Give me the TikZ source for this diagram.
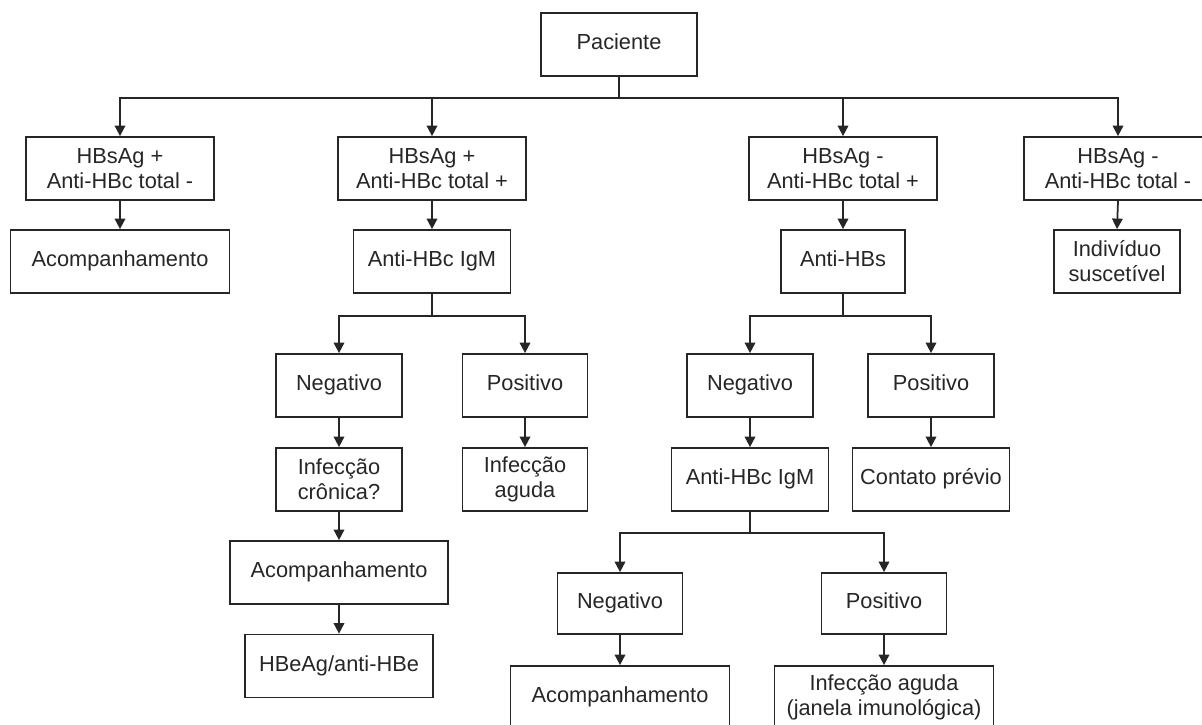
\documentclass[tikz,border=0pt]{standalone}
\usepackage{fontspec}
\setmainfont{Liberation Sans}
\usepackage{tikz}
\usetikzlibrary{shapes,arrows,positioning,calc,arrows.meta}

\colorlet{ink}{black!85}
\tikzset{
    caixa/.style={draw=ink, text=ink, line width=1pt, inner sep=0pt, align=center,
        minimum height=1.26cm, font=\fontsize{12.4}{14.2}\selectfont},
    uma/.style={caixa, text height=1.6ex, text depth=0.45ex},
    seta/.style={draw=ink, line width=1pt, -{Triangle[width=6pt,length=6pt]}},
    linha/.style={draw=ink, line width=1pt}
}

\begin{document}
\begin{tikzpicture}[x=0.02cm, y=-0.02cm]
    \useasboundingbox (0,0) rectangle (1202,724);

    % Topo
    \node[uma, minimum width=3.12cm] (pac) at (619,44.5) {Paciente};

    % Primeiro nivel
    \node[caixa, minimum width=3.76cm] (b1) at (120,168.5) {HBsAg +\\Anti-HBc total -};
    \node[caixa, minimum width=3.76cm] (b2) at (432,168.5) {HBsAg +\\Anti-HBc total +};
    \node[caixa, minimum width=3.76cm] (b3) at (843,168.5) {HBsAg -\\Anti-HBc total +};
    \node[caixa, minimum width=3.76cm] (b4) at (1118,168.5) {HBsAg -\\Anti-HBc total -};

    % Segundo nivel
    \node[uma, minimum width=4.38cm] (acomp1) at (120,261.5) {Acompanhamento};
    \node[uma, minimum width=3.14cm] (igm1) at (432,261.5) {Anti-HBc IgM};
    \node[uma, minimum width=2.48cm] (antihbs) at (843,261.5) {Anti-HBs};
    \node[caixa, minimum width=2.52cm] (indiv) at (1117,261.5) {Indivíduo\\suscetível};

    % Ramo IgM
    \node[uma, minimum width=2.52cm] (neg1) at (339,385.5) {Negativo};
    \node[uma, minimum width=2.5cm] (pos1) at (525,385.5) {Positivo};
    \node[caixa, minimum width=2.52cm] (cron) at (339,479.5) {Infecção\\crônica?};
    \node[caixa, minimum width=2.5cm] (aguda) at (525,479.5) {Infecção\\aguda};
    \node[uma, minimum width=4.36cm] (acomp2) at (339,572.5) {Acompanhamento};
    \node[uma, minimum width=3.76cm] (hbe) at (339,666) {HBeAg/anti-HBe};

    % Ramo Anti-HBs
    \node[uma, minimum width=2.52cm] (neg2) at (750,385.5) {Negativo};
    \node[uma, minimum width=2.52cm] (pos2) at (931,385.5) {Positivo};
    \node[uma, minimum width=3.14cm] (igm2) at (750,479.5) {Anti-HBc IgM};
    \node[uma, minimum width=3.14cm] (contato) at (931,479.5) {Contato prévio};
    \node[uma, minimum width=2.5cm, minimum height=1.22cm] (neg3) at (620,603.5) {Negativo};
    \node[uma, minimum width=2.5cm, minimum height=1.22cm] (pos3) at (884,603.5) {Positivo};
    \node[uma, minimum width=4.38cm] (acomp3) at (620,697.5) {Acompanhamento};
    \node[caixa, minimum width=4.38cm] (janela) at (884,697.5) {Infecção aguda\\(janela imunológica)};

    % Barras
    \coordinate (j0) at (619,98);
    \coordinate (j1) at (432,316);
    \coordinate (j2) at (843,316);
    \coordinate (j3) at (750,533);

    \draw[linha] (pac.south) -- (j0);
    \foreach \b in {b1,b2,b3,b4}
        \draw[seta] (j0) -| (\b.north);

    \draw[linha] (igm1.south) -- (j1);
    \foreach \b in {neg1,pos1}
        \draw[seta] (j1) -| (\b.north);

    \draw[linha] (antihbs.south) -- (j2);
    \foreach \b in {neg2,pos2}
        \draw[seta] (j2) -| (\b.north);

    \draw[linha] (igm2.south) -- (j3);
    \foreach \b in {neg3,pos3}
        \draw[seta] (j3) -| (\b.north);

    % Setas diretas
    \foreach \a/\b in {b1/acomp1, b2/igm1, b3/antihbs, b4/indiv, neg1/cron, pos1/aguda,
        cron/acomp2, acomp2/hbe, neg2/igm2, pos2/contato, neg3/acomp3, pos3/janela}
        \draw[seta] (\a.south) -- (\b.north);

\end{tikzpicture}
\end{document}
